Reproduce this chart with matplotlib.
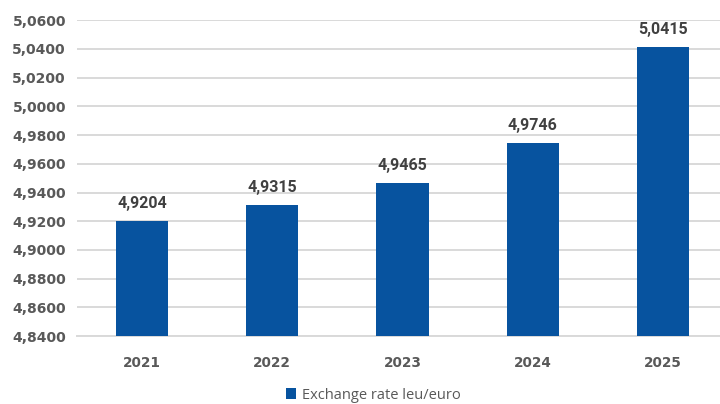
import matplotlib
matplotlib.use('Agg')
import matplotlib.pyplot as plt
from matplotlib.ticker import FuncFormatter, MultipleLocator

years = ['2021', '2022', '2023', '2024', '2025']
rates = [4.9204, 4.9315, 4.9465, 4.9746, 5.0415]
series_name = 'Exchange rate leu/euro'

BAR_COLOR = '#07539F'
TEXT_GRAY = '#595959'
LABEL_GRAY = '#404040'
GRID_GRAY = '#D9D9D9'


def comma(v, _pos=None):
    return f'{v:.4f}'.replace('.', ',')


fig = plt.figure(figsize=(7.2, 4.04), dpi=100)
# plot area runs slightly past the right edge, as in the source
ax = fig.add_axes([0.107, 0.168, 0.904, 0.782])

x = range(len(years))
ax.bar(x, rates, width=0.40, color=BAR_COLOR, label=series_name, zorder=3)

for xi, v in zip(x, rates):
    ax.annotate(comma(v), (xi, v), xytext=(0, 7), textcoords='offset points',
                ha='center', va='bottom', fontsize=11.5, fontweight='bold',
                color=LABEL_GRAY, family=['Roboto', 'DejaVu Sans'])

ax.set_ylim(4.84, 5.06)
ax.set_xlim(-0.5, len(years) - 0.5)
ax.yaxis.set_major_locator(MultipleLocator(0.02))
ax.yaxis.set_major_formatter(FuncFormatter(comma))
ax.set_xticks(list(x))
ax.set_xticklabels(years)

ax.grid(axis='y', color=GRID_GRAY, linewidth=1.4, zorder=0)
for s in ('top', 'right', 'left'):
    ax.spines[s].set_visible(False)
ax.spines['bottom'].set_color(GRID_GRAY)
ax.spines['bottom'].set_linewidth(1.4)
ax.tick_params(axis='both', length=0, labelcolor=TEXT_GRAY)
ax.tick_params(axis='y', pad=8, labelsize=10)
ax.tick_params(axis='x', pad=14, labelsize=9.8)
for lab in ax.get_xticklabels() + ax.get_yticklabels():
    lab.set_fontweight('bold')

fig.legend(loc='center', bbox_to_anchor=(0.518, 0.022), frameon=False,
           handlelength=0.7, handleheight=0.7, handletextpad=0.4,
           prop={'family': 'Open Sans', 'size': 10.5},
           labelcolor=TEXT_GRAY)

fig.savefig('out.png', dpi=100)
